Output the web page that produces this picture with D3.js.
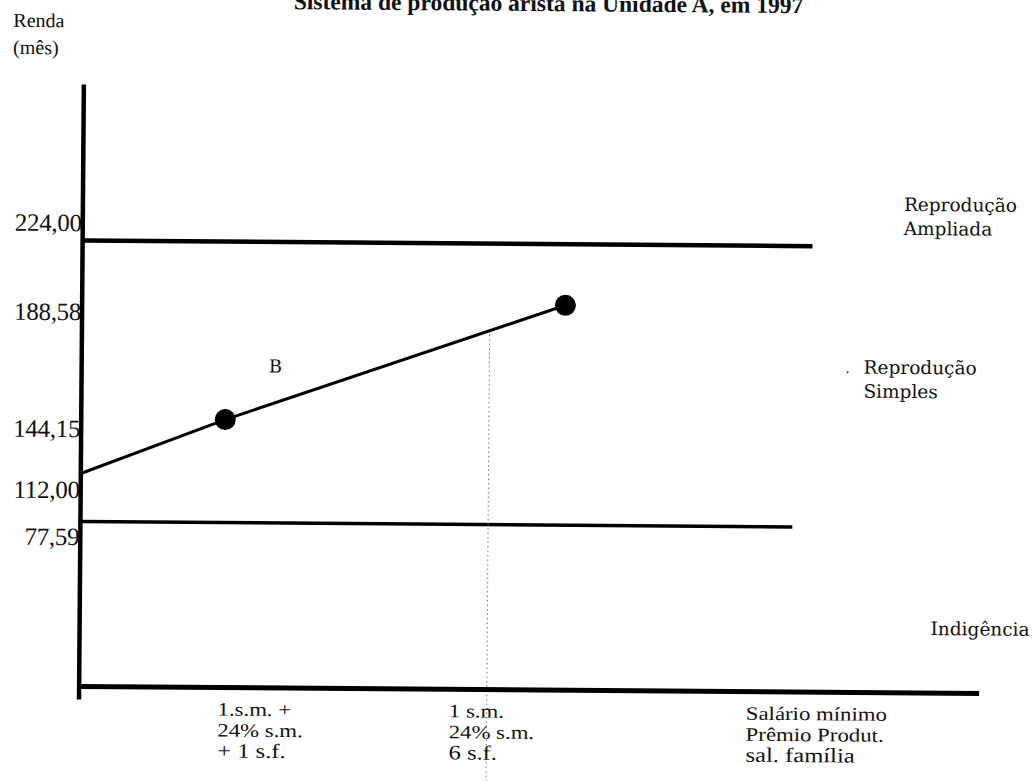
<!DOCTYPE html>
<html>
<head>
<meta charset="utf-8">
<script src="https://cdn.jsdelivr.net/npm/d3@7"></script>
<style>
  body { margin: 0; background: #fff; }
  svg text { font-family: "Liberation Serif", "Times New Roman", serif; fill: #111; }
</style>
</head>
<body>
<svg id="chart" width="1032" height="781"></svg>
<script>
// values
const yTickValues = [224.00, 188.58, 144.15, 112.00, 77.59];
const yTickText = ["224,00", "188,58", "144,15", "112,00", "77,59"];
const incomeX = [0, 16, 53.7];             // position along the x axis (chart units)
const incomeY = [112.00, 144.15, 188.58];  // renda
const levelValues = [224.00, 77.59];
const levelEnds = [81.1, 79.1];
const zoneLabels = [["Reprodução", "Ampliada"], ["Reprodução", "Simples"], ["Indigência"]];
const zoneAnchors = [241.5, 163.5, 27.3];   // renda level where each zone label sits
const categories = [
  ["1.s.m. +", "24% s.m.", "+ 1 s.f."],
  ["1 s.m.", "24% s.m.", "6 s.f."],
  ["Salário mínimo", "Prêmio Produt.", "sal. família"]
];
const categoryX = [15.4, 41.1, 74.1];
const markerX = 45.3;   // dotted vertical guide

const svg = d3.select("#chart");
// scan is tilted a little
const g = svg.append("g").attr("transform", "rotate(0.45,530,450)");

// hand drawn axis: spacing is not proportional, so use a piecewise scale
const y = d3.scaleLinear()
  .domain([0, 77.59, 112, 144.15, 188.58, 224, 300])
  .range([690, 525, 477, 422, 305, 244, 88]);
const x = d3.scaleLinear().domain([0, 100]).range([81, 981]);

// title (cut off by the scan)
g.append("text")
  .attr("x", 545).attr("y", 11)
  .attr("text-anchor", "middle")
  .style("font-weight", "bold").style("font-size", "23.5px")
  .text("Sistema de produção arista na Unidade A, em 1997");

g.append("text").attr("x", 10).attr("y", 31).style("font-size", "20px").text("Renda");
g.append("text").attr("x", 10).attr("y", 58).style("font-size", "20px").text("(mês)");

// tick labels (nudged like in the drawing)
const tickNudge = [-18, 10, 10, 16, 15];
g.selectAll(".ytick")
  .data(yTickValues)
  .join("text")
  .attr("class", "ytick")
  .attr("x", x(0) - 1)
  .attr("y", (d, i) => y(d) + tickNudge[i])
  .attr("dy", "0.35em")
  .attr("text-anchor", "end")
  .style("font-size", "25px")
  .style("letter-spacing", "-0.3px")
  .text((d, i) => yTickText[i]);

// level lines
g.selectAll(".level")
  .data(levelValues)
  .join("line")
  .attr("class", "level")
  .attr("x1", x(0)).attr("x2", (d, i) => x(levelEnds[i]))
  .attr("y1", d => y(d)).attr("y2", d => y(d))
  .attr("stroke", "#000")
  .attr("stroke-width", (d, i) => i === 0 ? 4.5 : 3.5);

// dotted guide
g.append("line")
  .attr("x1", x(markerX)).attr("x2", x(markerX))
  .attr("y1", y(179)).attr("y2", 781)
  .attr("stroke", "#777").attr("stroke-width", 1)
  .attr("stroke-dasharray", "1.5,3");

// axes
g.append("line")
  .attr("x1", x(0)).attr("x2", x(0))
  .attr("y1", y(300)).attr("y2", y(0) + 13)
  .attr("stroke", "#000").attr("stroke-width", 4.5);
g.append("line")
  .attr("x1", x(0)).attr("x2", x(100))
  .attr("y1", y(0)).attr("y2", y(0))
  .attr("stroke", "#000").attr("stroke-width", 5);

// income line and points
const pts = incomeX.map((d, i) => [d, incomeY[i]]);
g.append("path")
  .datum(pts)
  .attr("fill", "none").attr("stroke", "#000").attr("stroke-width", 3)
  .attr("d", d3.line().x(d => x(d[0])).y(d => y(d[1])));
g.selectAll(".pt")
  .data(pts.slice(1))
  .join("circle")
  .attr("class", "pt")
  .attr("cx", d => x(d[0])).attr("cy", d => y(d[1]))
  .attr("r", 10.5).attr("fill", "#000");

g.append("text")
  .attr("x", x(20.8)).attr("y", y(164.6))
  .attr("dy", "0.35em")
  .style("font-family", "DejaVu Serif").style("font-size", "18px")
  .text("B");

// zone labels on the right
const zoneX = [902, 863, 932];
zoneLabels.forEach((lines, i) => {
  const t = g.append("text")
    .attr("x", zoneX[i]).attr("y", y(zoneAnchors[i]))
    .style("font-family", "DejaVu Serif").style("font-size", "18.5px");
  lines.forEach((s, j) => {
    t.append("tspan").attr("x", zoneX[i]).attr("dy", j === 0 ? 0 : 24).text(s);
  });
});
g.append("circle").attr("cx", 847).attr("cy", y(164)).attr("r", 1).attr("fill", "#333");

// category labels under the x axis
categories.forEach((lines, i) => {
  lines.forEach((s, j) => {
    g.append("text")
      .attr("transform", `translate(${x(categoryX[i])},${718 + j * 21}) scale(1.2,1)`)
      .style("font-size", j === 2 ? "20.5px" : "19px")
      .text(s);
  });
});
</script>
</body>
</html>
